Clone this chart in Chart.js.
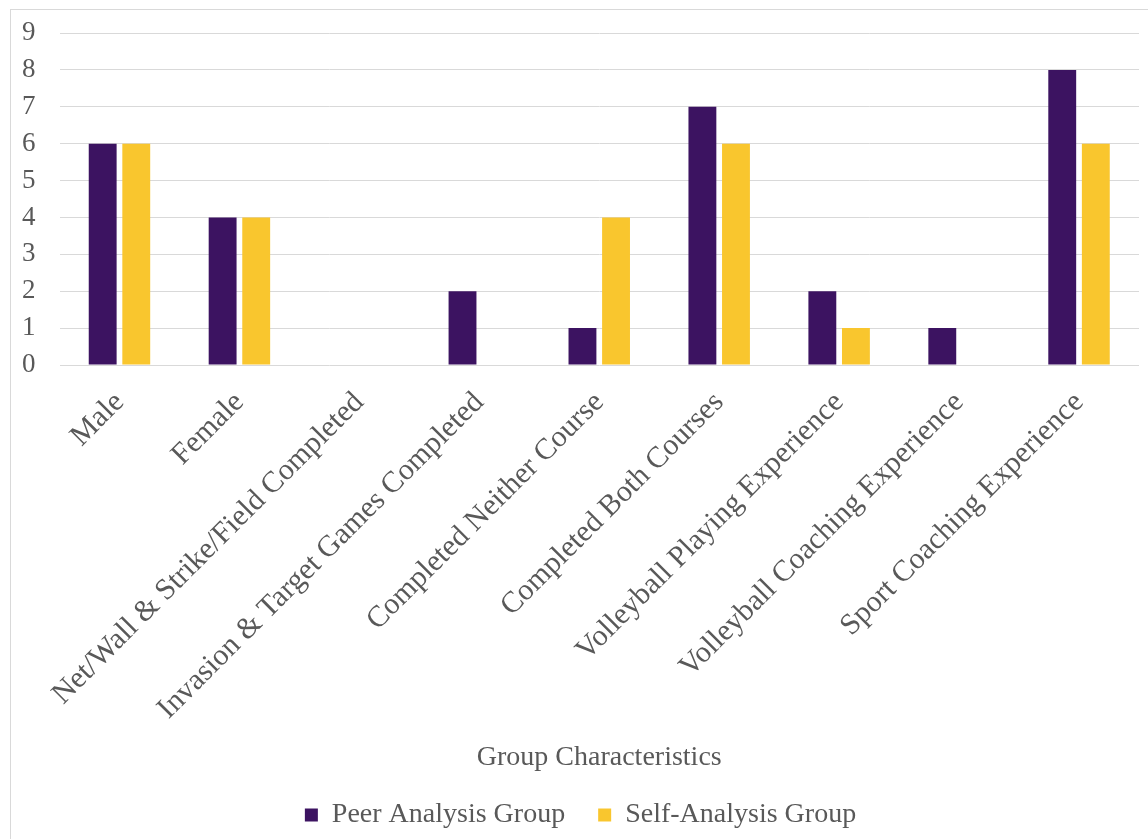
<!DOCTYPE html>
<html>
<head>
<meta charset="utf-8">
<script src="https://cdn.jsdelivr.net/npm/chart.js@4/dist/chart.umd.min.js"></script>
<style>
  html, body { margin: 0; padding: 0; background: #ffffff; }
  #wrap { position: absolute; left: 10px; top: 9px; width: 1150px; height: 840px;
          border-left: 1px solid #d9d9d9; border-top: 1px solid #d9d9d9; }
  canvas { display: block; }
</style>
</head>
<body>
<div id="wrap"><canvas id="c" width="1137" height="829"></canvas></div>
<script>
const categories = [
  "Male",
  "Female",
  "Net/Wall & Strike/Field Completed",
  "Invasion & Target Games Completed",
  "Completed Neither Course",
  "Completed Both Courses",
  "Volleyball Playing Experience",
  "Volleyball Coaching Experience",
  "Sport Coaching Experience"
];
const peerValues = [6, 4, 0, 2, 1, 7, 2, 1, 8];
const selfValues = [6, 4, 0, 0, 4, 6, 1, 0, 6];
const seriesNames = ["Peer Analysis Group", "Self-Analysis Group"];
const axisTitle = "Group Characteristics";
const yMin = 0, yMax = 9, yStep = 1;

const serif = "'Liberation Serif', 'Times New Roman', serif";
const textColor = "#595959";

new Chart(document.getElementById("c"), {
  type: "bar",
  data: {
    labels: categories,
    datasets: [
      { label: seriesNames[0], data: peerValues, backgroundColor: "#3C1361", borderWidth: 0 },
      { label: seriesNames[1], data: selfValues, backgroundColor: "#F9C62E", borderWidth: 0 }
    ]
  },
  options: {
    responsive: false,
    animation: false,
    devicePixelRatio: 1,
    datasets: { bar: { categoryPercentage: 0.56, barPercentage: 0.83 } },
    layout: { padding: { top: 23, right: 9, bottom: 0, left: 11 } },
    plugins: {
      tooltip: { enabled: false },
      legend: {
        position: "bottom",
        labels: {
          font: { family: serif, size: 28 },
          color: textColor,
          boxWidth: 13,
          boxHeight: 13,
          padding: 33
        }
      }
    },
    scales: {
      x: {
        grid: { display: false, drawTicks: false },
        border: { display: false },
        ticks: {
          font: { family: serif, size: 30 },
          color: textColor,
          minRotation: 45,
          maxRotation: 45,
          autoSkip: false,
          padding: 20
        },
        title: {
          display: true,
          text: axisTitle,
          font: { family: serif, size: 28 },
          color: textColor,
          padding: { top: 24, bottom: -6 }
        }
      },
      y: {
        min: yMin,
        max: yMax,
        grid: { color: "#d9d9d9", lineWidth: 1, drawTicks: true, tickLength: 24, tickColor: "rgba(0,0,0,0)" },
        border: { display: false },
        ticks: {
          stepSize: yStep,
          autoSkip: false,
          font: { family: serif, size: 27 },
          color: textColor,
          padding: 0
        }
      }
    }
  }
});
</script>
</body>
</html>
